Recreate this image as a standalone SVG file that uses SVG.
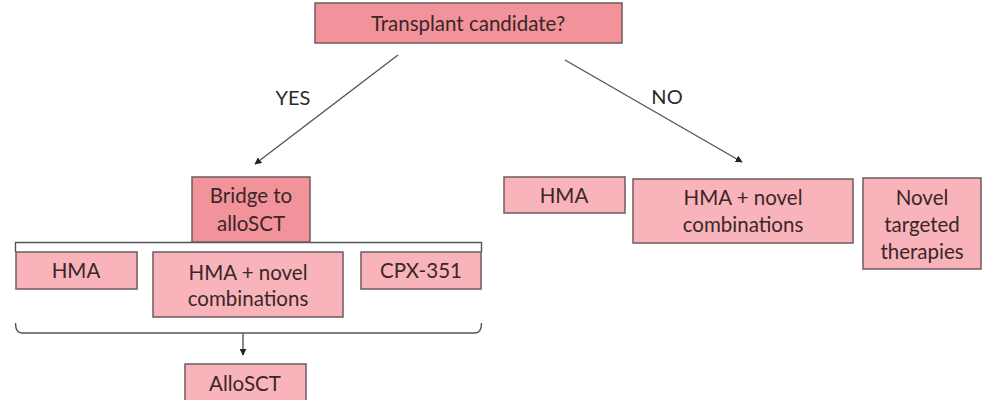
<svg xmlns="http://www.w3.org/2000/svg" width="982" height="400" viewBox="0 0 982 400">
<defs>
<marker id="ah" viewBox="0 0 10 10" refX="9" refY="5" markerWidth="7" markerHeight="7" orient="auto" markerUnits="userSpaceOnUse">
<path d="M0,0 L10,5 L0,10 z" fill="#222"/>
</marker>
<style>
.dark{fill:#F2939B;stroke:#6e5b5d;stroke-width:1.5}
.light{fill:#F9B4BB;stroke:#6e5b5d;stroke-width:1.5}
.t{font-family:Lato,"Open Sans",sans-serif;font-size:20.5px;fill:#3b2628;text-anchor:middle;dominant-baseline:central}
.lbl{font-family:Lato,"Open Sans",sans-serif;font-size:20px;fill:#2b2b2b;text-anchor:middle;dominant-baseline:central}
.c{fill:none;stroke:#555;stroke-width:1.4}
</style>
</defs>
<rect width="982" height="400" fill="#fff"/>
<g id="connectors">
<line class="c" x1="398" y1="55" x2="255" y2="164" marker-end="url(#ah)"/>
<line class="c" x1="565" y1="60" x2="742" y2="162" marker-end="url(#ah)"/>
<path class="c" d="M15.5,252 L15.5,242.5 L481.5,242.5 L481.5,252"/>
<path class="c" d="M15.5,323 Q15.5,333 22,333 L475,333 Q481.5,333 481.5,323"/>
<line class="c" x1="243" y1="333" x2="243" y2="355" marker-end="url(#ah)"/>
<text class="lbl" x="293" y="97">YES</text>
<text class="lbl" x="667" y="96">NO</text>
</g>
<g id="n-candidate">
<rect class="dark" x="315" y="3" width="307" height="40"/>
<text class="t" x="468" y="23">Transplant candidate?</text>
</g>
<g id="n-bridge">
<rect class="dark" x="192" y="177" width="118" height="65"/>
<text class="t" x="251" y="195">Bridge to</text>
<text class="t" x="251" y="223">alloSCT</text>
</g>
<g id="n-hma-l">
<rect class="light" x="16" y="252" width="121" height="37"/>
<text class="t" x="76" y="270">HMA</text>
</g>
<g id="n-combo-l">
<rect class="light" x="153" y="252" width="190" height="65"/>
<text class="t" x="248" y="272">HMA + novel</text>
<text class="t" x="248" y="298">combinations</text>
</g>
<g id="n-cpx">
<rect class="light" x="361" y="252" width="120" height="37"/>
<text class="t" x="421" y="270">CPX-351</text>
</g>
<g id="n-allo">
<rect class="light" x="185" y="364" width="121" height="38"/>
<text class="t" x="245" y="383">AlloSCT</text>
</g>
<g id="n-hma-r">
<rect class="light" x="504" y="177" width="121" height="36"/>
<text class="t" x="564" y="195">HMA</text>
</g>
<g id="n-combo-r">
<rect class="light" x="633" y="179" width="220" height="64"/>
<text class="t" x="743" y="197">HMA + novel</text>
<text class="t" x="743" y="224">combinations</text>
</g>
<g id="n-targeted">
<rect class="light" x="863" y="178" width="118" height="91"/>
<text class="t" x="922" y="197">Novel</text>
<text class="t" x="922" y="224">targeted</text>
<text class="t" x="922" y="251">therapies</text>
</g>
</svg>
